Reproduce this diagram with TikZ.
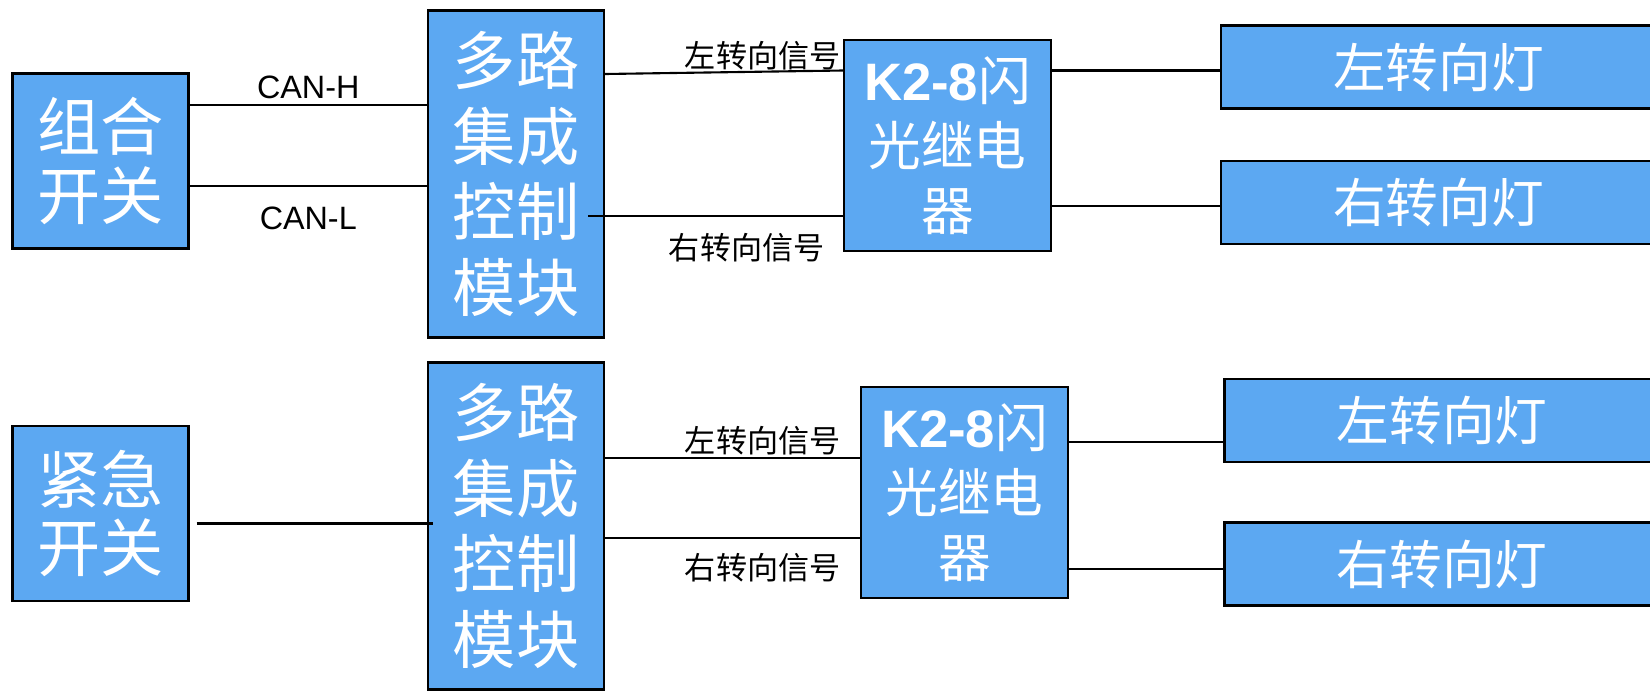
\documentclass[tikz,border=0pt]{standalone}
\usepackage{fontspec}
\setmainfont{Liberation Sans}
\newfontfamily\cjk{Noto Sans CJK SC}
\usetikzlibrary{positioning,calc}
\definecolor{boxblue}{RGB}{92,168,242}
\tikzset{
  unit-node/.style={draw=black, line width=1.4pt, fill=boxblue, text=white,
    align=center, inner sep=0pt, font=\cjk\fontsize{36}{43}\selectfont},
  switch-node/.style={unit-node, minimum width=3.52cm, minimum height=3.5cm,
    font=\cjk\fontsize{36}{39}\selectfont},
  module-node/.style={unit-node, minimum width=3.52cm, minimum height=6.54cm},
  relay-node/.style={unit-node, minimum width=4.14cm, minimum height=4.22cm,
    font=\cjk\fontsize{30}{37}\selectfont},
  lamp-node/.style={unit-node, minimum width=8.7cm, minimum height=1.66cm,
    font=\cjk\fontsize{30}{36}\selectfont},
  wire-line/.style={line width=1.2pt, draw=black},
  signal-label/.style={font=\cjk\fontsize{17.7}{20}\selectfont, inner sep=0pt},
  bus-label/.style={font=\fontsize{18.4}{20}\selectfont, inner sep=0pt}
}
\begin{document}
\begin{tikzpicture}[x=0.02cm, y=-0.02cm]
\useasboundingbox (0,0) rectangle (1650,697);
% Upper chain: combination switch over CAN bus
\node[switch-node] (sw1) at (100.5,161) {组合\\开关};
\node[module-node] (mcu1) at (516,174) {多路\\集成\\控制\\模块};
\node[relay-node] (relay1) at (947.5,145.5) {{\rmfamily\bfseries K2-8}闪\\光继电\\器};
\node[lamp-node] (lampL1) at (1438.5,67) {左转向灯};
\node[lamp-node] (lampR1) at (1438.5,202.5) {右转向灯};

\draw[wire-line] ($(sw1.east)+(0,-56)$) coordinate (canh) -- (canh -| mcu1.west)
  node[bus-label, midway, yshift=0.36cm] {CAN-H};
\draw[wire-line] ($(sw1.east)+(0,25)$) coordinate (canl) -- (canl -| mcu1.west)
  node[bus-label, midway, yshift=-0.64cm] {CAN-L};
\draw[wire-line] ($(mcu1.east)+(0,-100)$) -- ($(relay1.west)+(0,-75)$);
\draw[wire-line] ($(mcu1.east)+(-17,42)$) coordinate (rs1) -- (rs1 -| relay1.west);
\node[signal-label, anchor=east] (ls1) at ($(relay1.west)+(-2,-90)$) {左转向信号};
\node[signal-label, anchor=east] (rl1) at ($(relay1.west)+(-18,102.5)$) {右转向信号};
\draw[wire-line] ($(relay1.east)+(0,-75)$) coordinate (ol1) -- (ol1 -| lampL1.west);
\draw[wire-line] ($(relay1.east)+(0,60.5)$) coordinate (or1) -- (or1 -| lampR1.west);

% Lower chain: hazard switch
\node[switch-node] (sw2) at (100.5,513.5) {紧急\\开关};
\node[module-node] (mcu2) at (516,526) {多路\\集成\\控制\\模块};
\node[relay-node] (relay2) at (964.5,492.5) {{\rmfamily\bfseries K2-8}闪\\光继电\\器};
\node[lamp-node] (lampL2) at (1442,420.5) {左转向灯};
\node[lamp-node] (lampR2) at (1442,564) {右转向灯};

\draw[wire-line] ($(sw2.east)+(7,10)$) coordinate (es) -- ($(es -| mcu2.west)+(6,0)$);
\draw[wire-line] ($(mcu2.east)+(0,-68)$) coordinate (ls2) -- (ls2 -| relay2.west);
\draw[wire-line] ($(mcu2.east)+(0,12)$) coordinate (rs2) -- (rs2 -| relay2.west);
\node[signal-label, anchor=east] (lt2) at ($(relay2.west)+(-19,-51.5)$) {左转向信号};
\node[signal-label, anchor=east] (rt2) at ($(relay2.west)+(-19,75.5)$) {右转向信号};
\draw[wire-line] ($(relay2.east)+(0,-50.5)$) coordinate (ol2) -- (ol2 -| lampL2.west);
\draw[wire-line] ($(relay2.east)+(0,76.5)$) coordinate (or2) -- (or2 -| lampR2.west);
\end{tikzpicture}
\end{document}
